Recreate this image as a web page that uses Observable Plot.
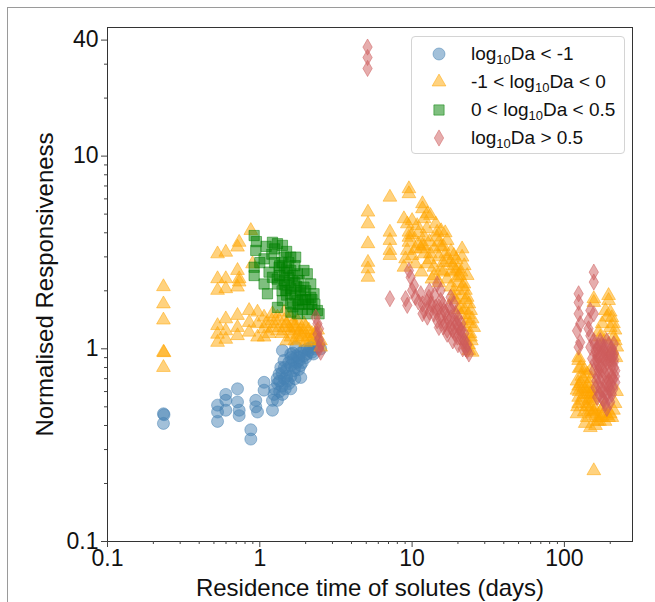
<!DOCTYPE html>
<html><head><meta charset="utf-8">
<script src="https://cdn.jsdelivr.net/npm/d3@7"></script>
<script src="https://cdn.jsdelivr.net/npm/@observablehq/plot@0.6"></script>
<style>
body{margin:0;background:#fff;width:655px;height:602px;overflow:hidden;position:relative;font-family:"Liberation Sans",Arial,sans-serif;}
#outer{position:absolute;left:7px;top:7px;width:700px;height:700px;border:1.5px solid #9a9a9a;}
#chart{position:absolute;left:0;top:0;}
#legend{position:absolute;left:411px;top:36px;width:214px;height:118px;border:1px solid #d4d4d4;border-radius:4px;background:rgba(255,255,255,0.85);box-sizing:border-box;}
.row{position:absolute;left:0;height:28px;width:214px;font-size:19px;color:#111;}
.row svg{position:absolute;left:16px;top:3px;}
.row span.t{position:absolute;left:59px;top:3px;white-space:nowrap;}
.row sub{font-size:13px;vertical-align:-4px;line-height:0;}
</style>
</head><body>
<div id="outer"></div>
<div id="chart"></div>
<div id="legend"></div>
<script>
// ---- data (residence time in days, normalised responsiveness) ----
const daBelowMinus1 = [
[0.233,0.46],[0.235,0.455],[0.233,0.41],
[0.528,0.51],[0.528,0.47],[0.528,0.42],
[0.598,0.58],[0.598,0.54],[0.598,0.48],
[0.714,0.62],[0.714,0.53],[0.732,0.48],[0.732,0.45],
[0.873,0.38],[0.873,0.34],
[0.941,0.54],[0.941,0.50],[0.966,0.47],
[1.067,0.67],[1.067,0.61],
[1.211,0.54],[1.211,0.48],[1.24,0.58],
[1.306,0.66],[1.339,0.74],[1.373,0.80],[1.408,0.98],[1.443,0.87],
[1.518,0.68],[1.597,0.62],[1.597,0.94],[1.68,0.77],[1.72,1.02],
[1.81,0.87],[1.857,0.71],[1.95,0.98],[2.05,0.94],[2.16,1.02],[2.27,1.06],[2.39,1.02],[2.51,1.0],
[1.408,0.58],[1.306,0.54],
[1.45,0.70],[1.5,0.78],[1.55,0.85],[1.65,0.88],[1.7,0.8],[1.75,0.92],[1.6,0.72],[1.4,0.64],
[1.35,0.6],[1.85,0.95],[2.0,0.9],[1.9,0.85],[1.55,0.66],[1.47,0.62],[1.25,0.62],[1.3,0.7],
[2.1,0.98],[2.3,1.0],[1.8,0.78],[1.65,0.95],
[1.6,0.82],[1.75,0.85],[1.85,0.82],[1.95,0.92],[2.05,1.0],[2.2,0.96],[1.7,0.7],[1.5,0.72],
[1.45,0.8],[1.4,0.75],[1.8,0.9],[2.25,0.94],[1.6,0.9],[1.35,0.68]
];
const daMinus1To0 = [
[0.233,2.10],[0.233,1.71],[0.233,1.41],[0.233,0.96],[0.235,0.955],[0.233,0.80],
[0.528,3.11],[0.598,3.17],[0.714,3.37],[0.732,3.57],[0.873,4.11],
[0.528,2.31],[0.598,2.31],[0.714,2.55],[0.732,2.31],[0.896,2.76],
[0.528,2.01],[0.598,2.05],[0.714,2.09],[0.732,2.22],
[0.528,1.32],[0.528,1.19],[0.528,1.08],[0.598,1.43],[0.598,1.24],[0.598,1.12],
[0.714,1.49],[0.714,1.29],[0.714,1.17],[0.851,1.58],[0.851,1.37],[0.851,1.22],
[0.966,1.55],[0.966,1.35],[0.966,1.15],[1.067,1.46],[1.067,1.27],[1.067,1.15],
[1.211,1.52],[1.211,1.29],[1.306,1.46],[1.306,1.24],[1.443,1.55],[1.443,1.29],
[1.597,1.46],[1.597,1.24],[1.766,1.40],[1.766,1.19],[1.95,1.35],[2.05,1.15],
[2.27,1.15],[2.51,1.02],
[1.5,1.35],[1.7,1.3],[1.85,1.25],[2.0,1.3],[2.2,1.2],[1.4,1.2],[1.9,1.15],[2.4,1.1],[1.15,1.2],[1.6,1.15],
[1.3,1.35],[1.45,1.4],[1.55,1.28],[1.65,1.35],[1.75,1.28],[1.8,1.12],[1.95,1.22],[2.1,1.25],
[2.15,1.1],[2.3,1.2],[2.0,1.08],[1.7,1.1],[1.5,1.1],[1.2,1.4],[1.1,1.35],[2.4,1.25],[2.5,1.1],
[5.13,5.12],[5.13,4.45],[5.13,3.51],[5.13,2.81],[5.13,2.6],[5.13,2.35],
[9.53,6.77],[9.53,6.38],[7.15,6.12],
[7.15,4.03],[7.15,3.65],[7.15,3.24],[7.15,3.05],
[8.84,4.73],[9.3,4.45],[10.0,4.63],[10.8,4.36],[11.7,5.66],[11.7,5.33],[12.6,5.02],[13.2,4.92],[12.0,4.73],
[9.53,4.03],[9.53,3.79],[9.53,3.57],[9.3,3.24],[9.06,2.93],[10.0,3.05],[11.4,3.30],[11.7,3.44],
[12.0,3.11],[13.2,3.11],[14.3,4.45],[14.6,4.03],[15.0,3.57],[15.4,3.37],[17.0,3.65],[16.6,3.11],
[17.9,2.81],[18.8,3.05],[21.3,3.30],[21.3,2.99],[19.3,2.55],[19.8,2.35],[21.9,2.17],[22.4,2.01],
[23.0,1.85],[23.6,1.71],[24.2,1.58],[24.8,1.43],[25.4,1.29],[24.2,1.15],[24.8,0.96],[23.6,0.98],
[20.8,1.64],[18.8,1.85],[17.9,2.09],[15.4,2.55],[13.9,2.65],[12.6,2.76],[10.5,2.76],[8.84,2.65],
[16,2.8],[18,2.5],[20,2.2],[19,2.0],[21,1.9],[22,1.6],[23,1.4],[22,1.3],[24,1.2],[20,2.6],
[17,2.3],[14,3.3],[13,3.6],[15,3.0],[12,3.8],[11,4.0],[18,3.2],[21,2.5],[23,2.4],
[16,3.4],[17,2.9],[18.5,2.7],[19.5,2.9],[20.5,2.4],[22,2.7],[21.5,2.1],[22.5,1.8],[23.5,1.5],
[24,1.35],[16,2.5],[15,2.2],[14,2.4],[13,2.9],[12,3.4],[14.5,3.8],[16.5,4.0],[11,3.5],[10.5,3.3],
[19,1.8],[20,1.6],[21,1.5],[22.5,1.1],[23.5,1.05],[24.5,1.1],[13.5,2.3],[11.5,2.5],[10,3.9],
[12.5,4.2],[15.5,4.1],
[195,1.89],[195,1.78],[156,1.82],[156,1.74],[186,1.58],[190,1.46],[177,1.35],[200,1.29],
[211,1.15],[216,1.10],[221,1.02],[205,0.98],[124,0.90],[124,0.87],[121,0.68],[124,0.64],
[121,0.61],[124,0.56],[124,0.52],[121,0.46],[137,0.41],[148,0.39],[160,0.40],[141,0.44],
[152,0.46],[168,0.44],[181,0.46],[195,0.44],[200,0.46],[141,0.52],[152,0.54],[141,0.74],
[148,0.77],[168,1.22],[172,1.15],[186,1.12],[160,0.48],[177,0.49],[144,0.66],[148,0.58],
[134,0.63],[131,0.54],[156,0.233],
[130,0.72],[135,0.58],[145,0.48],[155,0.56],[160,0.62],[125,0.79],[140,0.5],[150,0.7],
[125,0.6],[128,0.66],[132,0.7],[138,0.62],[142,0.58],[146,0.55],[150,0.5],[155,0.47],
[160,0.45],[165,0.42],[170,0.42],[175,0.44],[185,0.42],[190,0.45],[205,0.44],[210,0.48],
[215,0.52],[220,0.6],[218,0.9],[215,1.25],[210,1.35],[205,1.45],[200,1.55],[150,0.6],
[145,0.62],[135,0.78],[128,0.8],[122,0.5],[135,0.47],[180,0.5]
];
const da0To05 = [
[0.918,3.87],[0.941,3.24],[1.067,2.93],[0.918,2.65],[0.918,2.40],[1.067,2.17],[1.123,1.93],
[1.211,3.57],[1.306,3.51],[1.408,3.44],[1.443,2.99],[1.339,2.65],[1.211,2.35],[1.306,2.17],
[1.443,2.26],[1.597,2.99],[1.72,2.99],[1.597,2.55],[1.48,2.01],[1.597,1.93],[1.766,2.45],
[1.81,2.26],[1.95,2.55],[2.05,2.45],[1.95,2.09],[2.16,2.17],[1.766,1.78],[1.95,1.71],
[2.16,1.85],[2.27,1.93],[2.39,1.58],[2.45,1.52],[2.05,1.52],[1.766,1.52],[1.597,1.71],
[1.408,1.78],[1.306,1.64],
[1.0,2.8],[0.95,3.6],[1.15,2.5],[1.3,2.3],[1.5,2.6],[1.7,2.2],[1.85,1.95],[2.0,1.8],
[2.2,1.6],[1.6,1.55],[1.9,1.6],[1.4,2.0],[1.55,2.2],[1.25,2.8],[1.7,2.7],
[1.35,2.4],[1.45,2.5],[1.55,2.35],[1.65,2.4],[1.75,2.1],[1.85,2.0],[1.6,2.05],[1.5,1.9],
[1.7,1.9],[1.8,1.7],[1.9,1.8],[2.1,1.7],[2.0,2.0],[1.45,2.15],[1.35,2.7],[1.55,2.8],
[1.65,1.65],[2.2,1.8],[2.3,1.7],[1.25,3.3],[1.2,3.1],[1.1,3.4],[1.5,3.2],[1.4,2.8]
];
const daAbove05 = [
[2.33,1.46],[2.39,1.35],[2.45,1.27],[2.39,1.19],[2.45,1.12],[2.51,1.06],[2.45,1.0],[2.51,0.96],
[5.1,36.8],[5.1,32.5],[5.1,28.5],
[7.15,1.82],[9.06,1.82],[9.3,1.68],[9.53,2.55],[9.78,2.35],[10.3,2.13],[10.0,2.01],[11.4,1.93],
[11.7,1.71],[12.0,1.58],[12.9,1.85],[13.2,1.71],[14.3,1.64],[14.6,2.17],[15.4,2.01],[15.4,1.78],
[16.2,1.58],[17.0,1.46],[17.9,1.85],[18.8,1.71],[19.3,1.52],[19.8,1.35],[20.8,1.24],[21.3,1.15],
[21.9,1.06],[23.0,0.98],[23.6,0.94],[14.6,1.40],[15.0,1.29],[17.9,1.29],[19.8,1.15],[17.0,1.19],
[13.9,1.52],[12.6,1.46],[11.7,1.52],
[16,1.7],[18,1.6],[19,1.4],[20,1.45],[21,1.35],[22,1.2],[17.5,1.4],[16.5,1.35],[15.5,1.5],
[20,1.05],[18.5,1.25],[14,1.9],[13,2.0],
[13.5,1.7],[14.5,1.55],[15.5,1.4],[16.5,1.55],[17.5,1.65],[18,1.45],[19,1.2],[20.5,1.15],
[21.5,1.0],[22.5,1.0],[19,1.3],[17,1.25],[16,1.3],[18.5,1.1],[20,1.3],[21,1.25],[15,1.65],
[12.5,1.75],[11,1.75],[13,1.55],[10.5,1.85],[22,1.1],[23,1.05],
[156,2.50],[156,2.22],[124,1.93],[124,1.74],[124,1.52],[127,1.35],[121,1.24],[127,1.08],
[124,1.02],[144,1.40],[148,1.58],[156,1.52],[144,1.27],[148,1.17],[148,1.02],
[156,1.10],[172,1.10],[190,1.10],[211,1.06],[160,0.98],[181,0.98],[205,0.96],[164,0.87],
[186,0.87],[211,0.85],[168,0.77],[190,0.77],[216,0.77],[172,0.68],[195,0.68],[216,0.67],
[177,0.61],[200,0.61],[181,0.54],[200,0.53],[190,0.49],[164,0.56],[160,0.63],[156,0.77],
[152,0.89],[177,0.82],[195,0.63],[186,0.94],[168,1.04],
[165,0.92],[175,0.72],[185,0.66],[195,0.9],[205,0.72],[200,0.85],[170,0.8],[180,1.02],[190,0.58],[210,0.92],
[158,1.05],[165,1.0],[175,1.05],[185,1.02],[195,1.05],[205,1.0],[212,0.95],[162,0.93],
[172,0.93],[182,0.9],[192,0.85],[202,0.88],[212,0.8],[158,0.85],[168,0.82],[178,0.78],
[188,0.72],[198,0.75],[208,0.7],[215,0.72],[165,0.72],[172,0.62],[182,0.6],[192,0.66],
[202,0.66],[210,0.62],[178,0.55],[186,0.52],[195,0.56],[205,0.58],[170,0.58],[162,0.68],
[200,0.93],[212,0.88],[180,0.94]
];

const xMajorTicks = [0.1, 1, 10, 100];
const xMinorTicks = [0.2,0.3,0.4,0.5,0.6,0.7,0.8,0.9,2,3,4,5,6,7,8,9,20,30,40,50,60,70,80,90,200];
const yMajorTicks = [0.1, 1, 10, 40];
const yMinorTicks = [0.2,0.3,0.4,0.5,0.6,0.7,0.8,0.9,2,3,4,5,6,7,8,9,20,30];

const seriesLabels = ["log<sub>10</sub>Da &lt; -1", "-1 &lt; log<sub>10</sub>Da &lt; 0", "0 &lt; log<sub>10</sub>Da &lt; 0.5", "log<sub>10</sub>Da &gt; 0.5"];

// ---- styling ----
const seriesData = [daBelowMinus1, daMinus1To0, da0To05, daAbove05];
const colors = ["steelblue", "orange", "green", "indianred"];
const symbols = ["circle", "triangle", "square", "diamond"];
const radii = [6, 5.1, 5.8, 4.9];
const d3sym = [d3.symbolCircle, d3.symbolTriangle, d3.symbolSquare, d3.symbolDiamond];

const marks = [];
seriesData.forEach((data, i) => {
  marks.push(Plot.dot(data, {
    x: d => d[0], y: d => d[1], symbol: symbols[i], r: radii[i],
    fill: colors[i], fillOpacity: 0.5, stroke: colors[i], strokeOpacity: 0.5, strokeWidth: 1
  }));
});

const chart = Plot.plot({
  width: 655, height: 602,
  marginLeft: 107, marginRight: 23, marginTop: 27, marginBottom: 61,
  style: {fontFamily: '"Liberation Sans", Arial, sans-serif', background: "transparent", color: "#111"},
  x: {type: "log", domain: [0.1, 280]},
  y: {type: "log", domain: [0.1, 46.5]},
  marks: [
    ...marks,
    Plot.frame({stroke: "#333", strokeWidth: 1}),
    Plot.axisX({ticks: xMinorTicks, tickSize: 3, tickFormat: () => "", label: null, stroke: "#444"}),
    Plot.axisY({ticks: yMinorTicks, tickSize: 3, tickFormat: () => "", label: null, stroke: "#444"}),
    Plot.axisX({ticks: xMajorTicks, tickSize: 6, tickPadding: 2, tickFormat: d => String(d), fontSize: 23, label: null, stroke: "#444"}),
    Plot.axisX({ticks: [], label: "Residence time of solutes (days)", labelAnchor: "center", labelOffset: 54, labelArrow: "none", fontSize: 24}),
    Plot.axisY({ticks: yMajorTicks, tickSize: 6, tickPadding: 3, tickFormat: d => String(d), fontSize: 23, label: null, stroke: "#444"}),
    Plot.axisY({ticks: [], label: "Normalised Responsiveness", labelAnchor: "center", labelOffset: 72, labelArrow: "none", fontSize: 24})
  ]
});
document.getElementById("chart").appendChild(chart);

// legend
const legend = document.getElementById("legend");
const rowCenters = [17, 45, 73, 101];
seriesLabels.forEach((lab, i) => {
  const row = document.createElement("div");
  row.className = "row";
  row.style.top = (rowCenters[i] - 14) + "px";
  const size = Math.PI * radii[i] * radii[i];
  const path = d3.symbol(d3sym[i], size)();
  row.innerHTML = `<svg width="22" height="22" viewBox="-11 -11 22 22"><path d="${path}" fill="${colors[i]}" fill-opacity="0.5" stroke="${colors[i]}" stroke-opacity="0.5"/></svg><span class="t">${lab}</span>`;
  legend.appendChild(row);
});
</script>
</body></html>
